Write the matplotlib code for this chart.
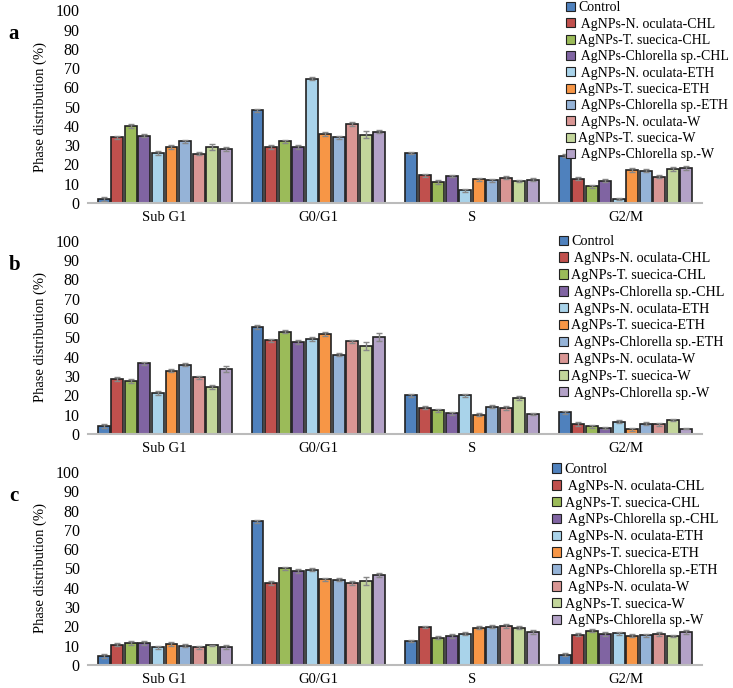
import matplotlib
matplotlib.use("Agg")
import matplotlib.pyplot as plt
import numpy as np
from matplotlib.patches import Patch

plt.rcParams['font.family'] = ['Liberation Serif', 'DejaVu Serif']

phases = ["Sub G1", "G0/G1", "S", "G2/M"]
series = ["Control", " AgNPs-N. oculata-CHL", "AgNPs-T. suecica-CHL", " AgNPs-Chlorella sp.-CHL",
          " AgNPs-N. oculata-ETH", "AgNPs-T. suecica-ETH", " AgNPs-Chlorella sp.-ETH",
          " AgNPs-N. oculata-W", "AgNPs-T. suecica-W", " AgNPs-Chlorella sp.-W"]
colors = ["#4F81BD", "#C0504D", "#9BBB59", "#8064A2", "#A9D3EA", "#F79646",
          "#95B3D7", "#D99694", "#C3D69B", "#B3A2C7"]

# values[series][phase]
vals_a = [[1.9, 48.0, 26.0, 24.4],
          [34.0, 29.0, 14.4, 12.6],
          [40.0, 32.0, 10.9, 8.7],
          [35.0, 29.0, 14.0, 11.6],
          [26.0, 64.5, 6.6, 2.1],
          [29.0, 36.0, 12.3, 17.3],
          [32.0, 34.0, 11.8, 16.8],
          [25.5, 41.0, 13.1, 13.7],
          [29.0, 35.5, 11.4, 17.6],
          [28.0, 37.0, 12.1, 18.3]]
err_a = [[1.0, 0.8, 0.7, 0.8],
         [1.0, 1.0, 0.8, 0.8],
         [1.0, 0.8, 0.8, 0.8],
         [0.8, 0.9, 0.7, 0.9],
         [0.9, 0.8, 0.8, 0.7],
         [1.0, 1.0, 0.8, 1.0],
         [0.9, 0.9, 0.8, 0.9],
         [0.8, 0.9, 0.9, 0.8],
         [1.5, 1.8, 0.6, 0.9],
         [0.8, 0.9, 0.8, 1.0]]

vals_b = [[4.0, 55.2, 20.0, 11.4],
          [28.7, 48.5, 13.6, 5.2],
          [27.7, 53.0, 12.4, 4.0],
          [36.7, 47.7, 10.7, 3.1],
          [21.2, 49.2, 20.0, 6.4],
          [32.9, 51.8, 10.0, 2.6],
          [36.0, 41.0, 14.1, 5.3],
          [29.3, 48.0, 13.6, 5.2],
          [24.3, 45.6, 18.8, 7.1],
          [33.6, 50.1, 10.5, 2.9]]
err_b = [[1.0, 1.0, 0.9, 0.8],
         [1.0, 0.9, 0.8, 1.0],
         [1.0, 0.9, 0.7, 0.7],
         [0.8, 0.9, 0.8, 0.6],
         [0.9, 0.9, 0.8, 0.8],
         [0.9, 0.8, 0.7, 0.8],
         [0.8, 0.8, 0.8, 0.8],
         [1.0, 0.8, 1.0, 0.8],
         [1.0, 2.0, 0.9, 0.5],
         [1.6, 2.0, 0.6, 0.3]]

vals_c = [[4.8, 74.5, 12.4, 5.3],
          [10.5, 42.5, 19.8, 15.7],
          [11.2, 50.1, 14.1, 17.7],
          [11.4, 48.7, 15.0, 16.0],
          [9.1, 49.4, 16.2, 16.5],
          [10.8, 44.4, 19.3, 15.1],
          [10.0, 44.2, 19.8, 15.5],
          [9.1, 42.5, 20.3, 16.0],
          [10.2, 43.7, 19.3, 15.1],
          [9.5, 46.5, 16.9, 16.9]]
err_c = [[1.0, 0.7, 0.7, 0.8],
         [0.8, 0.8, 0.6, 0.8],
         [1.0, 0.8, 0.8, 0.8],
         [1.0, 0.9, 0.9, 0.9],
         [0.7, 0.8, 0.9, 0.8],
         [0.9, 0.8, 0.8, 0.8],
         [0.8, 0.8, 0.8, 0.8],
         [0.7, 0.8, 0.9, 0.9],
         [0.3, 2.0, 0.8, 0.6],
         [1.0, 1.0, 1.0, 1.0]]

fig = plt.figure(figsize=(7.33, 6.88), dpi=100)

panels = [("a", vals_a, err_a, 0.705, 0.985, (0.772, 0.998), 10.0, 0.24),
          ("b", vals_b, err_b, 0.369, 0.650, (0.762, 0.658), 10.2, 0.27),
          ("c", vals_c, err_c, 0.0334, 0.314, (0.753, 0.327), 10.2, 0.27)]

x = np.arange(len(phases))
slot = 0.088
width = 0.078

for label, vals, errs, bot, top, legpos, lfs, lsp in panels:
    ax = fig.add_axes([0.120, bot, 0.838, top - bot])
    for i, (v, e) in enumerate(zip(vals, errs)):
        pos = x + (i - 4.5) * slot
        ax.bar(pos, v, width, color=colors[i], edgecolor="#222222", linewidth=1.2,
               yerr=e, error_kw=dict(ecolor="#888888", elinewidth=1.0, capsize=2.5, capthick=1.0),
               zorder=2)
    ax.set_xlim(-0.5, 3.5)
    ax.set_ylim(0, 100)
    ax.set_yticks(range(0, 101, 10))
    ax.set_xticks(x)
    ax.set_xticklabels(phases, fontsize=10.5)
    ax.tick_params(axis="both", length=0)
    ax.tick_params(axis="x", pad=6, labelsize=10.5)
    ax.tick_params(axis="y", pad=6, labelsize=11.5)
    for s in ["top", "right", "left"]:
        ax.spines[s].set_visible(False)
    ax.spines["bottom"].set_color("#BBBBBB")
    ax.spines["bottom"].set_linewidth(1.5)
    ax.set_ylabel("Phase distribution (%)", fontsize=10.5, labelpad=6)
    ax.patch.set_alpha(0)
    handles = [Patch(facecolor=c, edgecolor="#222222", linewidth=0.8) for c in colors]
    fig.legend(handles, series, loc="upper left", bbox_to_anchor=legpos,
               frameon=False, fontsize=lfs, handlelength=0.65, handleheight=0.65,
               handletextpad=0.25, labelspacing=lsp, borderaxespad=0, borderpad=0)
    fig.text(0.012, top - 0.035, label, fontsize=15, fontweight="bold", va="center")

fig.savefig("out.png", dpi=100)
